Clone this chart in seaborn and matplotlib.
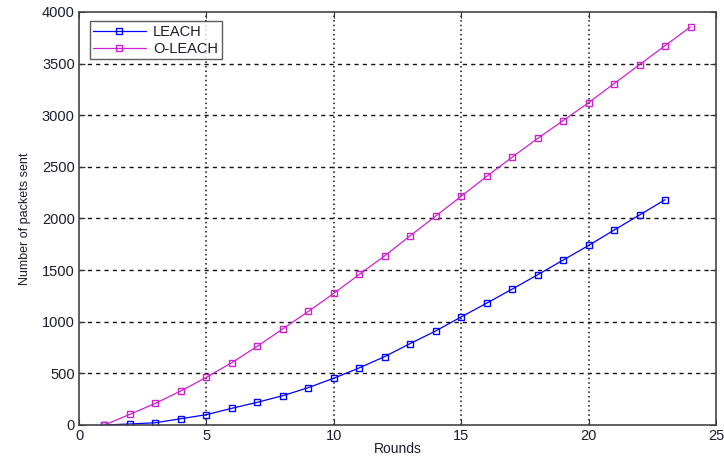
import numpy as np
import pandas as pd
import matplotlib
matplotlib.use("Agg")
import matplotlib.pyplot as plt
import seaborn as sns

# Packets delivered to the base station per round
rounds_leach = list(range(1, 24))
packets_leach = [0, 10, 22, 61, 100, 162, 220, 284, 362, 453, 553, 663, 789,
                 911, 1047, 1180, 1316, 1455, 1597, 1739, 1888, 2034, 2182]

rounds_oleach = list(range(1, 25))
packets_oleach = [0, 104, 210, 330, 462, 604, 763, 931, 1100, 1275, 1458, 1639,
                  1833, 2024, 2215, 2408, 2594, 2775, 2948, 3122, 3306, 3490,
                  3674, 3856]

series_names = ["LEACH", "O-LEACH"]
series_colors = ["#0000ff", "#cc22cc"]

x_ticks = [0, 5, 10, 15, 20, 25]
y_ticks = [0, 500, 1000, 1500, 2000, 2500, 3000, 3500, 4000]

df = pd.concat([
    pd.DataFrame({"Rounds": rounds_leach, "Packets": packets_leach, "Protocol": series_names[0]}),
    pd.DataFrame({"Rounds": rounds_oleach, "Packets": packets_oleach, "Protocol": series_names[1]}),
], ignore_index=True)

sns.set_theme(style="white")
plt.rcParams["font.family"] = ["Liberation Sans", "DejaVu Sans"]

fig = plt.figure(figsize=(7.24, 4.57), dpi=100)
ax = fig.add_axes([79 / 724, 1 - 425 / 457, (716 - 79) / 724, (425 - 12) / 457])

for name, color in zip(series_names, series_colors):
    sub = df[df["Protocol"] == name]
    sns.lineplot(data=sub, x="Rounds", y="Packets", ax=ax, color=color,
                 linewidth=0.9, marker="s", markersize=4.5,
                 markerfacecolor="none", markeredgecolor=color,
                 markeredgewidth=1.0, label=name)

ax.set_xlim(0, 25)
ax.set_ylim(0, 4000)
ax.set_xticks(x_ticks)
ax.set_yticks(y_ticks)

text_color = "#1c1c30"
ax.tick_params(axis="both", direction="in", length=4, width=0.8,
               labelsize=10.5, colors="#333333", labelcolor=text_color,
               top=True, right=True, bottom=True, left=True, pad=3)

# grid: dashed horizontals, dotted verticals
for yv in y_ticks[1:-1]:
    ax.axhline(yv, color="#111111", linestyle=(0, (3, 3)), linewidth=1.0, zorder=0)
for xv in x_ticks[1:-1]:
    ax.axvline(xv, color="#111111", linestyle=(0, (1, 2)), linewidth=1.1, zorder=0)

for spine in ax.spines.values():
    spine.set_color("#444444")
    spine.set_linewidth(1.2)

ax.set_xlabel("Rounds", fontsize=10, color=text_color, labelpad=-1)
ax.set_ylabel("Number of packets sent", fontsize=9, color=text_color, labelpad=8)

leg = ax.legend(loc="upper left", bbox_to_anchor=(0.012, 0.985), fontsize=10.5,
                frameon=True, fancybox=False, handlelength=3.6,
                borderpad=0.25, labelspacing=0.2, handletextpad=0.5,
                borderaxespad=0.2)
leg.get_frame().set_edgecolor("#333333")
leg.get_frame().set_linewidth(1.0)
for t in leg.get_texts():
    t.set_color(text_color)

fig.savefig("out.png", dpi=100)
